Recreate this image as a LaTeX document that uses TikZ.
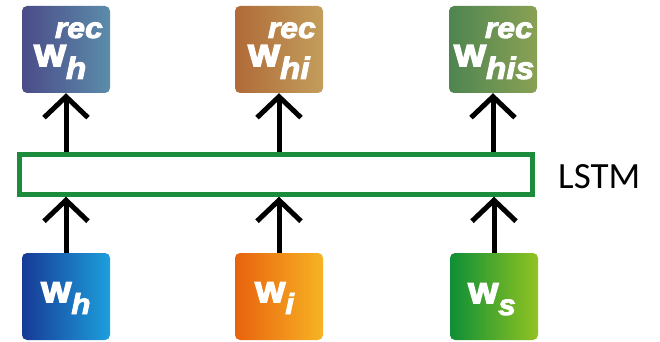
\documentclass[tikz,border=0pt]{standalone}
\usepackage{fontspec}
\setmainfont{Carlito}
% heavy, slightly widened faces for the weight symbols
\newfontfamily\wmain[FakeStretch=1.12,FakeBold=6]{Liberation Sans}
\newfontfamily\wsub[FakeStretch=1.08,FakeBold=3]{Liberation Sans}
\newfontfamily\wrec[FakeStretch=1.1,FakeBold=3]{Liberation Sans}
\usetikzlibrary{arrows.meta}

% box colours (left / right ends of each gradient)
\definecolor{recAL}{HTML}{4B4B88}\definecolor{recAR}{HTML}{5B8DAA}
\definecolor{recBL}{HTML}{B06A38}\definecolor{recBR}{HTML}{C29E5C}
\definecolor{recCL}{HTML}{4E8550}\definecolor{recCR}{HTML}{8AA155}
\definecolor{inAL}{HTML}{173A96}\definecolor{inAR}{HTML}{1D9FDC}
\definecolor{inBL}{HTML}{E8620E}\definecolor{inBR}{HTML}{F7B324}
\definecolor{inCL}{HTML}{0E8F36}\definecolor{inCR}{HTML}{92C322}
\definecolor{lstmgreen}{HTML}{1C8C3C}

\newcommand{\subtop}[1]{\raisebox{-13pt}{\wsub\bfseries\itshape\fontsize{31}{31}\selectfont #1}}
\newcommand{\subbot}[1]{\raisebox{-12pt}{\wsub\bfseries\itshape\fontsize{29}{29}\selectfont #1}}

\begin{document}
\begin{tikzpicture}[x=1pt,y=-1pt,
  wbox/.style={rounded corners=5pt, minimum width=88pt, minimum height=87pt,
               inner sep=0pt, draw=none},
  wtop/.style={anchor=base west, inner sep=0pt, text=white,
               font=\wmain\bfseries\fontsize{30}{30}\selectfont},
  wbot/.style={anchor=base west, inner sep=0pt, text=white,
               font=\wmain\bfseries\fontsize{28.5}{28.5}\selectfont},
  rectag/.style={anchor=base east, inner sep=0pt, text=white,
               font=\wrec\bfseries\itshape\fontsize{29}{29}\selectfont},
  arr/.style={line width=5pt, -{Straight Barb[length=21pt,width=44pt]}}
]
\useasboundingbox (0,0) rectangle (660,342);

% recurrent weight boxes
\node[wbox, left color=recAL, right color=recAR] (t1) at (66,49.5) {};
\node[wbox, left color=recBL, right color=recBR] (t2) at (279,49.5) {};
\node[wbox, left color=recCL, right color=recCR] (t3) at (493,49.5) {};

% input weight boxes
\node[wbox, left color=inAL, right color=inAR] (b1) at (66,296.5) {};
\node[wbox, left color=inBL, right color=inBR] (b2) at (279,296.5) {};
\node[wbox, left color=inCL, right color=inCR] (b3) at (494,296.5) {};

% LSTM layer
\node[draw=lstmgreen, line width=4.5pt, minimum width=513pt, minimum height=40pt,
      inner sep=0pt] (lstm) at (276,174.5) {};
\node[anchor=west, inner sep=0pt, font=\fontsize{37}{42}\selectfont] (lstmlbl)
      at (558,177) {LSTM};

% labels of the recurrent boxes
\node[wtop] (t1w) at (34,66) {W\subtop{h}};
\node[wtop] (t2w) at (248,66) {W\subtop{hi}};
\node[wtop] (t3w) at (454,66) {W\subtop{his}};
\node[rectag] (t1r) at (103,38) {rec};
\node[rectag] (t2r) at (316,38) {rec};
\node[rectag] (t3r) at (533,38) {rec};

% labels of the input boxes
\node[wbot] (b1w) at (41,302) {W\subbot{h}};
\node[wbot] (b2w) at (255,302) {W\subbot{i}};
\node[wbot] (b3w) at (468,303) {W\subbot{s}};

% connections
\foreach \k in {1,2,3}{
  \draw[arr] (b\k.north) -- (b\k.north |- lstm.south);
  \draw[arr] (t\k.south |- lstm.north) -- (t\k.south);
}
\end{tikzpicture}
\end{document}
